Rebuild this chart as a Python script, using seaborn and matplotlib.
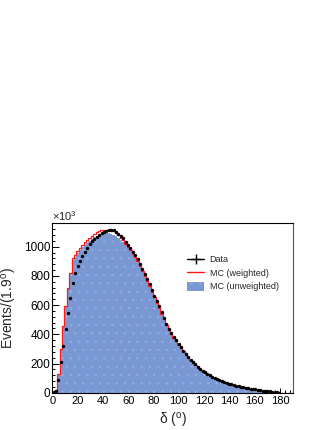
import numpy as np
import pandas as pd
import matplotlib
matplotlib.use("Agg")
import matplotlib.pyplot as plt
import seaborn as sns
from matplotlib.lines import Line2D
from matplotlib.patches import Patch
from matplotlib.ticker import MultipleLocator

# ---- data (events per 1.9 degree bin, in units of 10^3) ----
bin_width = 1.9
n_bins = 100

data_counts = [3, 14, 87, 208, 322, 434, 548, 651, 751, 818,
               868, 904, 936, 964, 991, 1018, 1037, 1053, 1069, 1082,
               1094, 1103, 1110, 1114, 1115, 1112, 1104, 1090, 1075, 1057,
               1035, 1012, 989, 966, 942, 915, 884, 849, 815, 781,
               743, 702, 665, 628, 592, 551, 512, 473, 438, 410,
               385, 358, 333, 310, 288, 266, 246, 227, 210, 194,
               179, 165, 152, 140, 129, 119, 110, 101, 93, 86,
               79, 73, 67, 62, 57, 52, 48, 44, 40, 36,
               33, 30, 27, 24, 22, 19, 17, 15, 13, 11,
               9, 7, 5, 3, 1]

mc_weighted = [3, 18, 126, 299, 459, 594, 715, 822, 920, 943,
               970, 993, 1012, 1030, 1046, 1062, 1075, 1087, 1099, 1105,
               1112, 1116, 1118, 1117, 1113, 1105, 1094, 1080, 1063, 1044,
               1022, 999, 976, 952, 928, 901, 870, 836, 802, 768,
               731, 691, 654, 617, 582, 542, 504, 466, 431, 403,
               378, 352, 327, 305, 283, 262, 242, 224, 207, 191,
               177, 163, 150, 138, 127, 117, 108, 100, 92, 85,
               78, 72, 66, 61, 56, 52, 47, 43, 39, 36,
               33, 30, 27, 24, 21, 19, 17, 15, 13, 11,
               9, 7, 5, 3, 1, 0, 0, 0, 0, 0]

mc_unweighted = [3, 17, 124, 296, 455, 589, 709, 815, 910, 932,
                 957, 978, 996, 1012, 1027, 1041, 1053, 1064, 1074, 1081,
                 1087, 1091, 1093, 1093, 1090, 1084, 1075, 1063, 1048, 1031,
                 1011, 990, 968, 945, 921, 895, 865, 832, 798, 764,
                 727, 688, 651, 614, 579, 540, 502, 464, 429, 401,
                 376, 350, 325, 303, 281, 260, 240, 222, 205, 189,
                 175, 161, 148, 136, 125, 115, 106, 98, 90, 83,
                 76, 70, 64, 59, 54, 50, 46, 42, 38, 35,
                 32, 29, 26, 23, 21, 18, 16, 14, 12, 10,
                 8, 6, 4, 3, 1, 0, 0, 0, 0, 0]

x_ticks = [0, 20, 40, 60, 80, 100, 120, 140, 160, 180]
y_ticks = [0, 200, 400, 600, 800, 1000]
legend_labels = ["Data", "MC (weighted)", "MC (unweighted)"]

# ---- style ----
sns.set_style("ticks")
plt.rcParams["font.family"] = ["Liberation Sans", "DejaVu Sans"]
plt.rcParams["mathtext.fontset"] = "custom"
plt.rcParams["mathtext.rm"] = "Liberation Sans"
plt.rcParams["mathtext.it"] = "Liberation Sans:italic"
hatch_col = "#98afdf"
plt.rcParams["hatch.color"] = hatch_col
plt.rcParams["hatch.linewidth"] = 0.4

blue = "#7a98d4"
red = "#ff1a1a"

x_max = bin_width * n_bins
centers = np.arange(n_bins) * bin_width + bin_width / 2

df_mc = pd.DataFrame({"delta": centers, "w": mc_weighted, "u": mc_unweighted})
df_data = pd.DataFrame({"delta": centers[:len(data_counts)], "n": data_counts})

fig = plt.figure(figsize=(3.32, 4.30), dpi=100)
ax = fig.add_axes([52.3 / 332, 1 - 392.7 / 430, (292.7 - 52.3) / 332, (392.7 - 222.7) / 430])

sns.histplot(data=df_mc, x="delta", weights="u", binwidth=bin_width, binrange=(0, x_max),
             element="step", fill=True, color=blue, alpha=1.0, linewidth=0, ax=ax)
for coll in ax.collections:
    coll.set_hatch("..")
    coll.set_edgecolor(hatch_col)
    coll.set_linewidth(0)

sns.histplot(data=df_mc, x="delta", weights="w", binwidth=bin_width, binrange=(0, x_max),
             element="step", fill=False, color=red, linewidth=0.9, ax=ax)

sns.scatterplot(data=df_data, x="delta", y="n", color="black", s=6,
                linewidth=0, marker="o", ax=ax, legend=False, zorder=5)

ax.set_xlim(0, 190)
ax.set_ylim(0, 1165)
ax.set_xticks(x_ticks)
ax.set_yticks(y_ticks)
ax.xaxis.set_minor_locator(MultipleLocator(4))
ax.yaxis.set_minor_locator(MultipleLocator(40))
ax.tick_params(axis="both", which="both", direction="in", top=False, right=False,
               labelsize=8, width=0.7, colors="black")
ax.tick_params(axis="y", which="major", length=5, pad=1.5, labelsize=8.5)
ax.tick_params(axis="y", which="minor", length=2.5)
ax.tick_params(axis="x", which="major", length=3.8, pad=2.5)
ax.tick_params(axis="x", which="minor", length=2)
for s in ax.spines.values():
    s.set_visible(True)
    s.set_linewidth(0.8)
    s.set_color("black")
ax.spines["right"].set_color("#555555")

ax.set_xlabel(r"δ ($^{\rm o}$)", fontsize=10)
ax.set_ylabel(r"Events/(1.9$^{\rm o}$)", fontsize=10)
ax.xaxis.set_label_coords(0.5, -0.11)
ax.yaxis.set_label_coords(-0.14, 0.5)

fig.text(52 / 332, 1 - 216 / 430, r"×10$^{3}$", fontsize=8, ha="left", va="center")

handles = [
    Line2D([], [], color="black", marker="+", markersize=7, linewidth=1.0, markeredgewidth=1.0),
    Line2D([], [], color=red, linewidth=1.0),
    Patch(facecolor=blue, edgecolor=hatch_col, linewidth=0, hatch=".."),
]
ax.legend(handles, legend_labels, loc="upper left",
          bbox_to_anchor=(187 / 332, 1 - 255 / 430), bbox_transform=fig.transFigure,
          frameon=False, fontsize=6.5, handlelength=1.9, handleheight=1.1,
          handletextpad=0.6, labelspacing=0.45, borderpad=0, borderaxespad=0)

fig.savefig("out.png", dpi=100)
